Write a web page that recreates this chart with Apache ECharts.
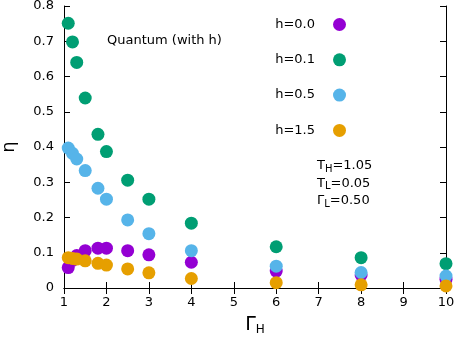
<!DOCTYPE html>
<html><head><meta charset="utf-8">
<script src="https://cdn.jsdelivr.net/npm/echarts@6/dist/echarts.min.js"></script>
<style>html,body{margin:0;padding:0;background:#fff}#c{width:457px;height:337px}</style>
</head><body><div id="c"></div>
<script>
var gammaH = [1.1, 1.2, 1.3, 1.5, 1.8, 2.0, 2.5, 3, 4, 6, 8, 10];
var h00 = [0.058, 0.078, 0.092, 0.106, 0.113, 0.113, 0.106, 0.094, 0.073, 0.048, 0.037, 0.025];
var h01 = [0.751, 0.698, 0.640, 0.539, 0.436, 0.387, 0.306, 0.252, 0.184, 0.117, 0.086, 0.069];
var h05 = [0.397, 0.382, 0.366, 0.333, 0.283, 0.252, 0.193, 0.154, 0.106, 0.062, 0.044, 0.034];
var h15 = [0.086, 0.084, 0.082, 0.077, 0.070, 0.065, 0.054, 0.043, 0.027, 0.015, 0.009, 0.006];
var seriesNames = ['h=0.0', 'h=0.1', 'h=0.5', 'h=1.5'];
var seriesColors = ['#9400d3', '#009e73', '#56b4e9', '#e69f00'];
var seriesData = [h00, h01, h05, h15];
var xTicks = [1, 10, 1];
var yTicks = [0, 0.8, 0.1];

var FONT = 'DejaVu Sans';
var chart = echarts.init(document.getElementById('c'));
function pairs(ys){ return gammaH.map(function(x,i){ return [x, ys[i]]; }); }
var axisCommon = {
  axisLine: {show: true, lineStyle: {color: '#000', width: 1}},
  axisTick: {show: true, inside: true, length: 6, lineStyle: {color: '#000'}},
  splitLine: {show: false}
};
chart.setOption({
  animation: false,
  textStyle: {fontFamily: FONT},
  grid: {left: 64, right: 11, top: 6, bottom: 49, containLabel: false, outerBoundsMode: 'none'},
  legend: {
    orient: 'vertical', align: 'right', right: 106, top: 13,
    itemWidth: 13, itemHeight: 13, itemGap: 22.3,
    icon: 'circle',
    textStyle: {fontFamily: FONT, fontSize: 13, color: '#000', padding: [0, 13, 0, 0]},
    data: seriesNames
  },
  xAxis: [
    Object.assign({type: 'value', min: xTicks[0], max: xTicks[1], interval: xTicks[2], position: 'bottom',
      axisLabel: {color: '#000', fontSize: 13, margin: 8, fontFamily: FONT},
      name: '{a|Γ}{b|H}', nameLocation: 'middle', nameGap: 26,
      nameTextStyle: {rich: {a: {fontSize: 19, color: '#000', fontFamily: FONT}, b: {fontSize: 12, color: '#000', fontFamily: FONT, padding: [10, 0, 0, 0]}}}
    }, axisCommon),
    Object.assign({type: 'value', min: xTicks[0], max: xTicks[1], interval: xTicks[2], position: 'top',
      axisLabel: {show: false}}, axisCommon)
  ],
  yAxis: [
    Object.assign({type: 'value', min: yTicks[0], max: yTicks[1], interval: yTicks[2], position: 'left',
      axisLabel: {color: '#000', fontSize: 13, margin: 10, fontFamily: FONT,
        formatter: function(v){ return v === 0 ? '0' : v.toFixed(1); }},
      name: 'η', nameLocation: 'middle', nameRotate: 90, nameGap: 46,
      nameTextStyle: {fontSize: 18, color: '#000', fontFamily: FONT}
    }, axisCommon),
    Object.assign({type: 'value', min: yTicks[0], max: yTicks[1], interval: yTicks[2], position: 'right',
      axisLabel: {show: false}}, axisCommon)
  ],
  graphic: [
    {type: 'text', left: 107, top: 34, style: {text: 'Quantum (with h)', font: '13px "DejaVu Sans"', fill: '#000'}},
    {type: 'text', left: 317, top: 158, style: {
      text: '{t|T}{s|H}{t|=1.05}\n{t|T}{s|L}{t|=0.05}\n{t|Γ}{s|L}{t|=0.50}',
      rich: {t: {fontSize: 13, fontFamily: FONT, fill: '#000', lineHeight: 17.5}, s: {fontSize: 10, fontFamily: FONT, fill: '#000', padding: [6, 0, 0, 0], lineHeight: 17.5}}
    }}
  ],
  series: seriesNames.map(function(n, i){
    return {name: n, type: 'scatter', symbol: 'circle', symbolSize: 13,
      itemStyle: {color: seriesColors[i], opacity: 1}, data: pairs(seriesData[i]), z: 2 + i};
  })
});
</script></body></html>
